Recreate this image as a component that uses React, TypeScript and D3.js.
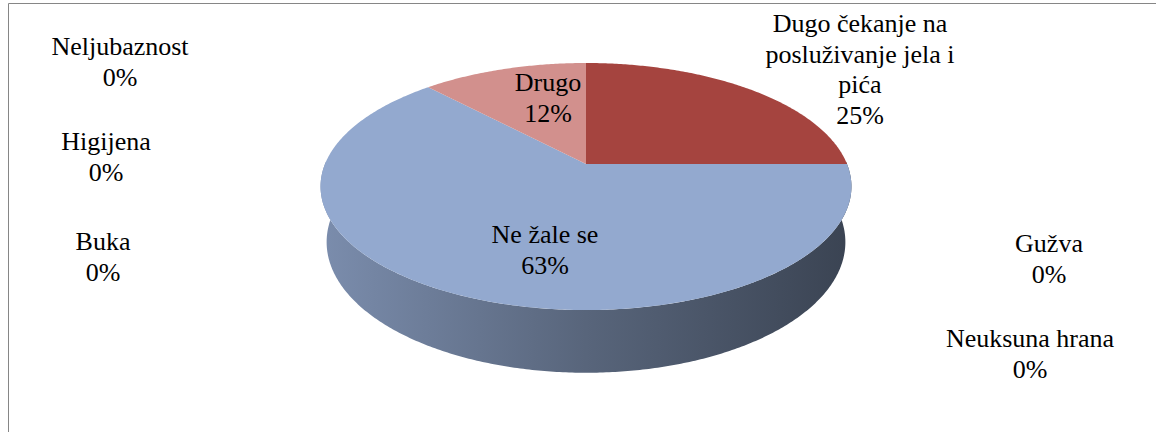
import React from 'react';
import * as d3 from 'd3';

// categories in Excel order, starting at 12 o'clock, clockwise
const categories = [
  'Dugo čekanje na posluživanje jela i pića',
  'Gužva',
  'Neuksuna hrana',
  'Ne žale se',
  'Buka',
  'Higijena',
  'Neljubaznost',
  'Drugo',
];
const shares = [25, 0, 0, 63, 0, 0, 0, 12];
const colors = ['#A5443F', '#4F81BD', '#9BBB59', '#93A9CF', '#8064A2', '#4BACC6', '#F79646', '#D2908D'];

// label text lines and where each label sits (center x, first baseline)
const labelLines = [
  ['Dugo čekanje na', 'posluživanje jela i', 'pića'],
  ['Gužva'],
  ['Neuksuna hrana'],
  ['Ne žale se'],
  ['Buka'],
  ['Higijena'],
  ['Neljubaznost'],
  ['Drugo'],
];
const labelPos: [number, number][] = [
  [860, 32], [1049, 252], [1030, 347], [545, 243],
  [103, 250], [106, 150], [120, 55], [548, 91],
];

const W = 1156, H = 432;
const cx = 586, cy = 164;
const R = 261, tilt = 0.4575, depth = 63, D = 1273;
const sinT = tilt, cosT = Math.sqrt(1 - tilt * tilt);

// perspective projection of a disc point at angle a (0 = 3 o'clock, +toward viewer), height h below top
function project(a: number, h: number): [number, number] {
  const u = Math.cos(a), v = Math.sin(a);
  const X = R * u;
  const Yv = R * sinT * v + h * cosT;
  const Z = R * cosT * v - h * sinT;
  const k = D / (D - Z);
  return [cx + X * k, cy + Yv * k];
}

const line = d3.line<[number, number]>().x(d => d[0]).y(d => d[1]);

function arcPts(a0: number, a1: number, h: number) {
  const n = Math.max(2, Math.ceil(Math.abs(a1 - a0) / 0.01));
  return d3.range(n + 1).map(i => project(a0 + (a1 - a0) * i / n, h));
}

type Item = { key: string; x: number; y: number; t: string };

// lines with ž / ć go in their own svg so a font fallback there does not hit the rest
const special = /[žćŽĆ]/;

const TextLayer: React.FC<{ items: Item[] }> = ({ items }) => (
  <svg width={W} height={H} style={{ position: 'absolute', left: 0, top: 0 }}>
    {items.map(d => (
      <text key={d.key} x={d.x} y={d.y} fontSize={26} fontFamily="Liberation Serif"
        textAnchor="middle">{d.t}</text>
    ))}
  </svg>
);

const App: React.FC = () => {
  const pie = d3.pie<number>().sort(null).value(d => d)(shares);
  const toA = (t: number) => t - Math.PI / 2;

  const walls = pie.map((p, i) => {
    const a0 = Math.max(toA(p.startAngle), -0.02);
    const a1 = Math.min(toA(p.endAngle), Math.PI + 0.02);
    if (a1 <= a0) return null;
    const pts = [...arcPts(a0, a1, 0), ...arcPts(a1, a0, depth)];
    return <path key={'w' + i} d={line(pts) + 'Z'} fill={`url(#side${i})`} />;
  });

  const tops = pie.map((p, i) => {
    if (p.endAngle - p.startAngle <= 0) return null;
    const pts: [number, number][] = [[cx, cy], ...arcPts(toA(p.startAngle), toA(p.endAngle), 0)];
    return <path key={'t' + i} d={line(pts) + 'Z'} fill={colors[i]} />;
  });

  const items: Item[] = [];
  categories.forEach((c, i) => {
    const [x, y] = labelPos[i];
    [...labelLines[i], `${shares[i]}%`].forEach((t, j) => {
      items.push({ key: `${i}-${j}`, x, y: y + j * 30.5, t });
    });
  });

  return (
    <div>
      <svg width={W} height={H} style={{ position: 'absolute', left: 0, top: 0 }}>
        <defs>
          {colors.map((c, i) => {
            const base = d3.rgb(c);
            return (
              <linearGradient key={i} id={`side${i}`} gradientUnits="userSpaceOnUse"
                x1={cx - R - 5} x2={cx + R + 5} y1={0} y2={0}>
                <stop offset="0" stopColor={base.darker(0.5).toString()} />
                <stop offset="0.5" stopColor={base.darker(1.45).toString()} />
                <stop offset="1" stopColor={base.darker(2.6).toString()} />
              </linearGradient>
            );
          })}
        </defs>
        <rect width={W} height={H} fill="#fff" />
        <path d={`M8.5,${H}V3.5H${W}`} fill="none" stroke="#868686" strokeWidth={1} />
        {walls}
        {tops}
      </svg>
      <TextLayer items={items.filter(d => !special.test(d.t))} />
      <TextLayer items={items.filter(d => special.test(d.t))} />
    </div>
  );
};

export default App;
